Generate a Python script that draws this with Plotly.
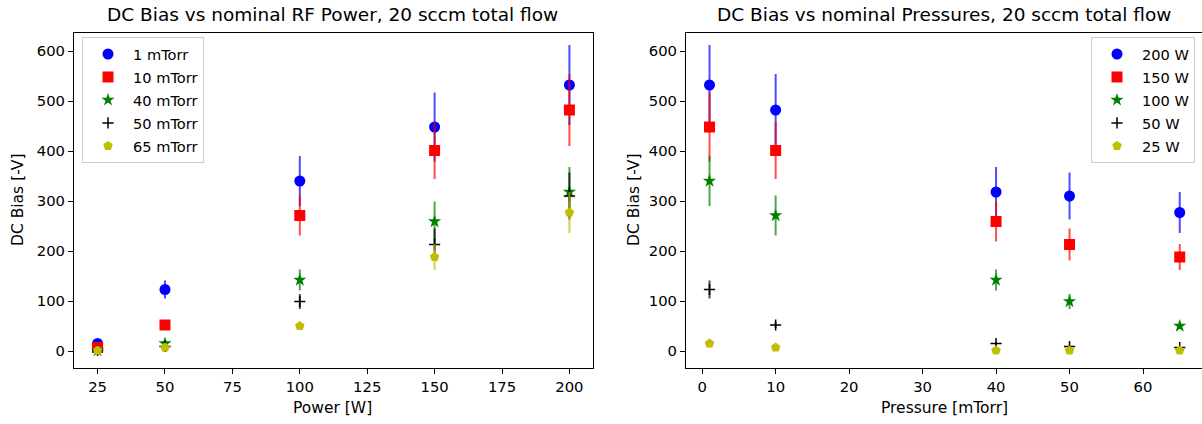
import plotly.graph_objects as go

# ---- data ----
powers = [25, 50, 100, 150, 200]            # W
pressures = [1, 10, 40, 50, 65]             # mTorr

# DC bias [-V] per pressure (rows) vs power (columns)
bias_1mT = [15, 123, 340, 448, 532]
bias_10mT = [7, 52, 271, 401, 482]
bias_40mT = [1, 15, 142, 259, 318]
bias_50mT = [1, 9, 99, 213, 310]
bias_65mT = [1, 7, 50, 188, 277]

err_1mT = [3, 18, 50, 69, 80]
err_10mT = [2, 6, 40, 57, 72]
err_40mT = [1, 2, 21, 40, 50]
err_50mT = [1, 2, 15, 32, 47]
err_65mT = [1, 2, 5, 26, 41]

pressure_labels = ["1 mTorr", "10 mTorr", "40 mTorr", "50 mTorr", "65 mTorr"]
power_labels = ["200 W", "150 W", "100 W", "50 W", "25 W"]

title_left = "DC Bias vs nominal RF Power, 20 sccm total flow"
title_right = "DC Bias vs nominal Pressures, 20 sccm total flow"

bias_rows = [bias_1mT, bias_10mT, bias_40mT, bias_50mT, bias_65mT]
err_rows = [err_1mT, err_10mT, err_40mT, err_50mT, err_65mT]

# ---- styles ----
colors = ["#0000ff", "#ff0000", "#008000", "#000000", "#bfbf00"]
err_colors = ["rgba(0,0,255,0.7)", "rgba(255,0,0,0.7)", "rgba(0,128,0,0.7)",
              "rgba(0,0,0,0.7)", "rgba(191,191,0,0.7)"]
symbols = ["circle", "square", "star", "cross-thin", "pentagon"]
sizes = [11, 11, 10, 8, 10]

W, H = 1202, 424
FONT = "DejaVu Sans"


def px(x):
    return x / W


def py(y):
    return 1 - y / H


fig = go.Figure()


def marker(i):
    m = dict(symbol=symbols[i], size=sizes[i], color=colors[i])
    if symbols[i] == "cross-thin":
        m["line"] = dict(color=colors[i], width=1.5)
    else:
        m["line"] = dict(width=0)
    return m


# left: vs power, one series per pressure
for i, lab in enumerate(pressure_labels):
    fig.add_trace(go.Scatter(
        x=powers, y=bias_rows[i], mode="markers", name=lab,
        marker=marker(i), legendgroup="L%d" % i,
        error_y=dict(type="data", array=err_rows[i], visible=True,
                     color=err_colors[i], thickness=2, width=0),
        xaxis="x", yaxis="y", legend="legend"))

# right: vs pressure, one series per power (200 W first)
for i, lab in enumerate(power_labels):
    col = len(powers) - 1 - i
    fig.add_trace(go.Scatter(
        x=pressures, y=[row[col] for row in bias_rows], mode="markers", name=lab,
        marker=marker(i), legendgroup="R%d" % i,
        error_y=dict(type="data", array=[row[col] for row in err_rows], visible=True,
                     color=err_colors[i], thickness=2, width=0),
        xaxis="x2", yaxis="y2", legend="legend2"))

axis_common = dict(showgrid=False, zeroline=False, showline=True, mirror=True,
                   linecolor="#000000", linewidth=1, ticks="outside", ticklen=5,
                   tickwidth=1, tickcolor="#000000",
                   tickfont=dict(family=FONT, size=14.8, color="#000000"))

ydom = [py(368), py(33)]
legend_common = dict(bgcolor="rgba(255,255,255,0.8)", bordercolor="#cccccc", borderwidth=1,
                     tracegroupgap=1, itemwidth=40,
                     font=dict(family=FONT, size=14.6, color="#000000"))
fig.update_layout(
    width=W, height=H,
    margin=dict(l=0, r=0, t=0, b=0),
    paper_bgcolor="white", plot_bgcolor="white",
    xaxis=dict(domain=[px(74), px(593)], range=[16.25, 208.75],
               tickvals=[25, 50, 75, 100, 125, 150, 175, 200], anchor="y", **axis_common),
    yaxis=dict(domain=ydom, range=[-34, 636], tickvals=[0, 100, 200, 300, 400, 500, 600],
               anchor="x", **axis_common),
    xaxis2=dict(domain=[px(686), 1.0], range=[-2.2, 68.03],
                tickvals=[0, 10, 20, 30, 40, 50, 60], anchor="y2", **axis_common),
    yaxis2=dict(domain=ydom, range=[-34, 636], tickvals=[0, 100, 200, 300, 400, 500, 600],
                anchor="x2", **axis_common),
    legend=dict(x=px(82), y=py(37), xanchor="left", yanchor="top", **legend_common),
    legend2=dict(x=px(1195), y=py(37), xanchor="right", yanchor="top", **legend_common),
    showlegend=True,
)

ann_font = dict(family=FONT, size=15.5, color="#000000")
title_font = dict(family=FONT, size=18.5, color="#000000")
annotations = [
    dict(text=title_left, x=px(333), y=py(15), font=title_font),
    dict(text=title_right, x=px(944), y=py(15), font=title_font),
    dict(text="Power [W]", x=px(333), y=py(408), font=ann_font),
    dict(text="Pressure [mTorr]", x=px(944), y=py(408), font=ann_font),
    dict(text="DC Bias [-V]", x=px(18), y=py(200), font=ann_font, textangle=-90),
    dict(text="DC Bias [-V]", x=px(634), y=py(200), font=ann_font, textangle=-90),
]
for a in annotations:
    a.update(xref="paper", yref="paper", showarrow=False, xanchor="center", yanchor="middle")
fig.update_layout(annotations=annotations)

fig.write_html("out.html", config={"displayModeBar": False},
               post_script="document.body.style.margin='0';")
